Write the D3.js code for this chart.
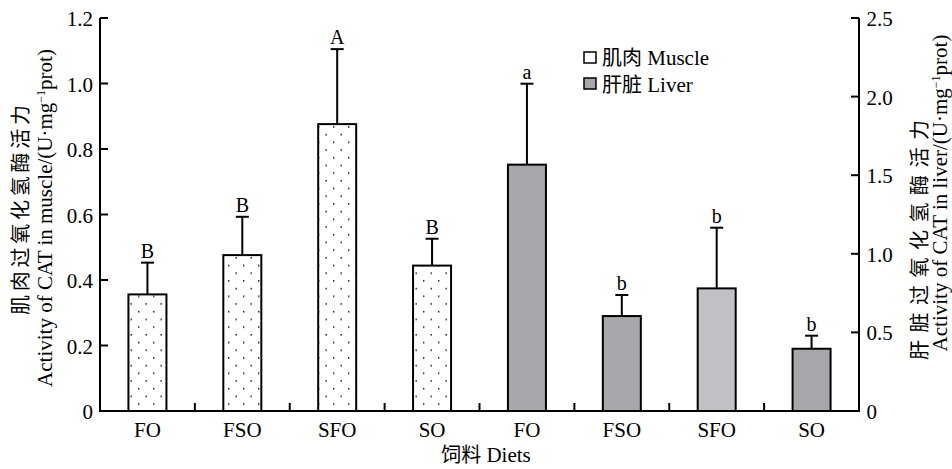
<!DOCTYPE html>
<html><head><meta charset="utf-8">
<script src="https://cdn.jsdelivr.net/npm/d3@7"></script>
<style>body{margin:0;background:#fff}svg{display:block}text{font-family:"Liberation Serif","Times New Roman",serif;fill:#000}</style>
</head><body><svg id="c" width="952" height="469"></svg>
<script>
const categories = ["FO","FSO","SFO","SO","FO","FSO","SFO","SO"];
const muscleValues = [0.356, 0.476, 0.876, 0.444];
const muscleErrors = [0.097, 0.117, 0.229, 0.082];
const muscleLetters = ["B","B","A","B"];
const liverValues = [1.567, 0.604, 0.780, 0.396];
const liverErrors = [0.515, 0.134, 0.386, 0.083];
const liverLetters = ["a","b","b","b"];
const liverFills = ["#a7a6aa","#a7a6aa","#c1c0c4","#a7a6aa"];
const leftTicks = [0,0.2,0.4,0.6,0.8,1.0,1.2];
const rightTicks = [0,0.5,1.0,1.5,2.0,2.5];

const svg = d3.select("#c");
const L = 100, R = 859, T = 18, B = 411;
const xb = d3.scaleBand().domain(d3.range(8)).range([L,R]);
const yL = d3.scaleLinear().domain([0,1.2]).range([B,T]);
const yR = d3.scaleLinear().domain([0,2.5]).range([B,T]);
const CJK = "Noto Sans CJK SC";

const defs = svg.append("defs");
const pat = defs.append("pattern").attr("id","dots").attr("patternUnits","userSpaceOnUse")
  .attr("width",15).attr("height",15.4).attr("x",0).attr("y",0);
pat.append("rect").attr("width",15).attr("height",15.4).attr("fill","#fff");
pat.append("rect").attr("x",3).attr("y",3).attr("width",1.4).attr("height",1.4).attr("fill","#000");
pat.append("rect").attr("x",10.5).attr("y",10.7).attr("width",1.4).attr("height",1.4).attr("fill","#000");

const bw = 38;
const data = [];
muscleValues.forEach((v,i)=>data.push({i, v, e:muscleErrors[i], l:muscleLetters[i], y:yL, fill:"url(#dots)"}));
liverValues.forEach((v,i)=>data.push({i:i+4, v, e:liverErrors[i], l:liverLetters[i], y:yR, fill:liverFills[i]}));

const g = svg.append("g");
data.forEach(d=>{
  const cx = xb(d.i) + xb.bandwidth()/2;
  const top = d.y(d.v), et = d.y(d.v + d.e);
  g.append("line").attr("x1",cx).attr("x2",cx).attr("y1",top).attr("y2",et).attr("stroke","#000").attr("stroke-width",2);
  g.append("line").attr("x1",cx-6.5).attr("x2",cx+6.5).attr("y1",et).attr("y2",et).attr("stroke","#000").attr("stroke-width",2);
  g.append("rect").attr("x",cx-bw/2).attr("y",top).attr("width",bw).attr("height",B-top)
    .attr("fill",d.fill).attr("stroke","#000").attr("stroke-width",2);
  g.append("text").attr("x",cx).attr("y",et-5).attr("text-anchor","middle").attr("font-size",20).text(d.l);
});

// axes
const ax = svg.append("g").attr("stroke","#000").attr("stroke-width",2).attr("fill","none");
ax.append("path").attr("d",`M${L},${T}V${B}H${R}V${T}`);
leftTicks.forEach(t=>{
  ax.append("line").attr("x1",L).attr("x2",L+8).attr("y1",yL(t)).attr("y2",yL(t));
  svg.append("text").attr("x",L-7).attr("y",yL(t)+8).attr("text-anchor","end").attr("font-size",21).text(t===0?"0":t.toFixed(1));
});
rightTicks.forEach(t=>{
  ax.append("line").attr("x1",R).attr("x2",R-8).attr("y1",yR(t)).attr("y2",yR(t));
  svg.append("text").attr("x",R+7.5).attr("y",yR(t)+8).attr("text-anchor","start").attr("font-size",21).text(t===0?"0":t.toFixed(1));
});
d3.range(1,8).forEach(i=>{
  ax.append("line").attr("x1",xb(i)).attr("x2",xb(i)).attr("y1",B).attr("y2",B-8);
});
categories.forEach((c,i)=>{
  svg.append("text").attr("x",xb(i)+xb.bandwidth()/2).attr("y",437).attr("text-anchor","middle").attr("font-size",21).text(c);
});
svg.append("text").attr("x",486).attr("y",462).attr("text-anchor","middle").attr("font-size",21)
  .html(`<tspan font-family="${CJK}" font-size="20">饲料</tspan> Diets`);

// axis titles
function ytitle(xcn, ycn, lcn, xen, yen, en, cn){
  svg.append("text").attr("transform",`translate(${xcn},${ycn}) rotate(-90)`).attr("text-anchor","middle")
    .attr("font-size",20).style("font-family",CJK).attr("textLength",lcn).attr("lengthAdjust","spacing").text(cn);
  svg.append("text").attr("transform",`translate(${xen},${yen}) rotate(-90)`).attr("text-anchor","middle")
    .attr("font-size",21).html(en);
}
ytitle(28, 210, 210, 52, 218, 'Activity of CAT in muscle/(U·mg<tspan baseline-shift="super" font-size="12">−1</tspan>prot)', "肌肉过氧化氢酶活力");
ytitle(927, 240, 240, 947, 193, 'Activity of CAT in liver/(U·mg<tspan baseline-shift="super" font-size="12">−1</tspan>prot)', "肝脏过氧化氢酶活力");

// legend
const lg = svg.append("g");
lg.append("rect").attr("x",584).attr("y",52).attr("width",12).attr("height",11).attr("fill","url(#dots)").attr("stroke","#000").attr("stroke-width",1.5);
lg.append("rect").attr("x",584).attr("y",78).attr("width",12).attr("height",11).attr("fill","#a7a6aa").attr("stroke","#000").attr("stroke-width",1.5);
lg.append("text").attr("x",602).attr("y",65).attr("font-size",21).html(`<tspan font-family="${CJK}" font-size="20">肌肉</tspan> Muscle`);
lg.append("text").attr("x",602).attr("y",91.5).attr("font-size",21).html(`<tspan font-family="${CJK}" font-size="20">肝脏</tspan> Liver`);
</script></body></html>
